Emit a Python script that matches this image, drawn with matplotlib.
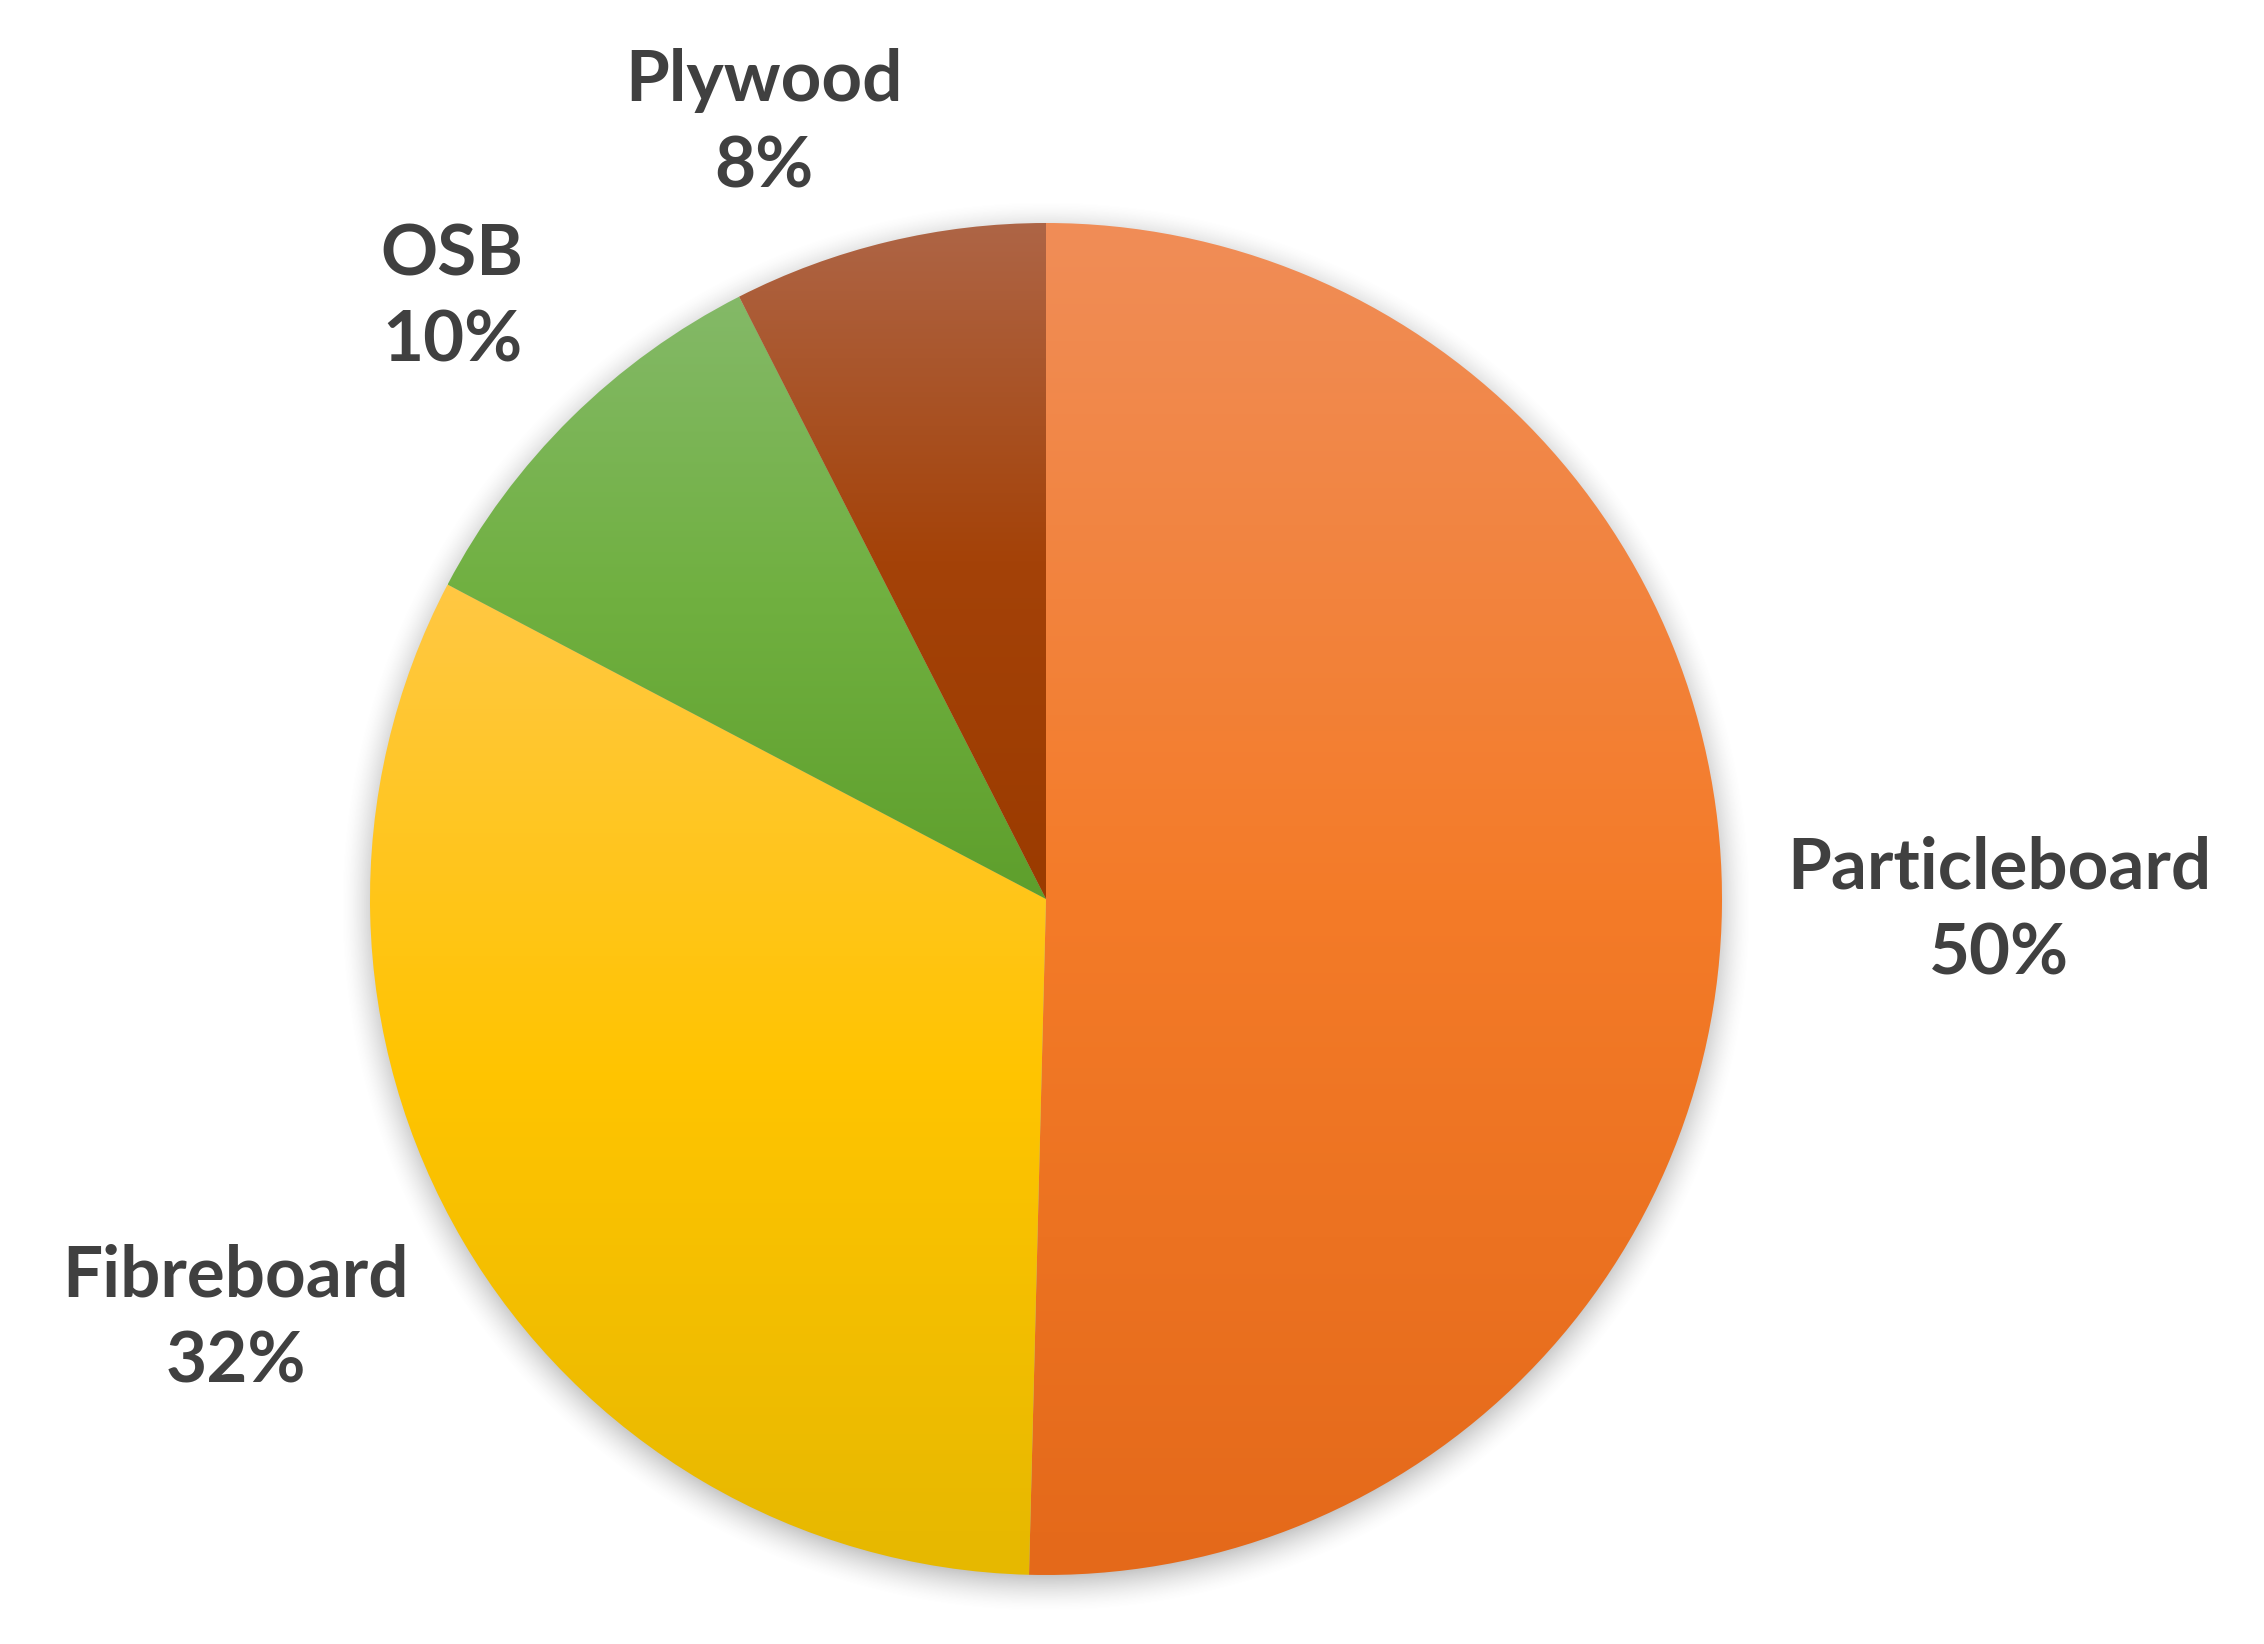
import numpy as np
import matplotlib
matplotlib.use('Agg')
import matplotlib.pyplot as plt
from matplotlib.colors import LinearSegmentedColormap

# data
categories = ['Particleboard', 'Fibreboard', 'OSB', 'Plywood']
shares = [50.4, 32.3, 9.8, 7.5]
top_colors = ['#F08D57', '#FFC843', '#84B968', '#AE6546']
mid_colors = ['#F47B28', '#FFC400', '#70B040', '#A44208']
bottom_colors = ['#E4691A', '#E6B800', '#5E9F2C', '#9B3B00']

# label placement (radius factor, angle nudge in degrees)
label_r = [1.41, 1.35, 1.25, 1.22]
label_nudge = [0.0, -3.0, 0.0, 6.5]

W, H = 2264, 1644
cx, cy, R = 1046, H - 899, 676

fig = plt.figure(figsize=(W / 100, H / 100), dpi=100)
ax = fig.add_axes([0, 0, 1, 1])

# soft shadow under the pie
sx = np.arange(cx - R - 80, cx + R + 80)
sy = np.arange(cy - R - 100, cy + R + 80)
X, Y = np.meshgrid(sx, sy)
d = np.hypot(X - cx, Y - (cy - 8))
a = np.clip((R + 30 - d) / 45.0, 0, 1) ** 1.6 * 0.55
shadow = np.zeros(X.shape + (4,))
shadow[..., :3] = 0.45
shadow[..., 3] = a
ax.imshow(shadow, extent=(sx[0], sx[-1], sy[0], sy[-1]), origin='lower', zorder=1)

wedges, _ = ax.pie(shares, startangle=90, counterclock=False, center=(cx, cy),
                   radius=R, colors=mid_colors,
                   wedgeprops=dict(linewidth=0, edgecolor='none'), frame=True)

for w, c0, cm, c1 in zip(wedges, top_colors, mid_colors, bottom_colors):
    w.set_zorder(2)
    w.set_alpha(0)
    v = w.get_path().vertices
    x0, x1 = v[:, 0].min(), v[:, 0].max()
    y0, y1 = v[:, 1].min(), v[:, 1].max()
    cmap = LinearSegmentedColormap.from_list('g', [c1, cm, c0])
    grad = np.linspace(0, 1, 256).reshape(-1, 1)
    im = ax.imshow(grad, cmap=cmap, extent=(x0, x1, y0, y1), origin='lower',
                   aspect='auto', zorder=3, interpolation='bilinear')
    im.set_clip_path(w.get_path(), ax.transData)

ax.set_xlim(0, W)
ax.set_ylim(0, H)
ax.set_aspect('equal')
ax.axis('off')

for w, name, v, rf, nd in zip(wedges, categories, shares, label_r, label_nudge):
    mid = np.deg2rad((w.theta1 + w.theta2) / 2 + nd)
    tx = cx + rf * R * np.cos(mid)
    ty = cy + rf * R * np.sin(mid)
    ax.text(tx, ty, '%s\n%.0f%%' % (name, v), ha='center', va='center',
            fontsize=51, fontweight='bold', family=['Lato', 'DejaVu Sans'],
            color='#404040', linespacing=1.4, zorder=5)

plt.savefig('out.png', dpi=100)
